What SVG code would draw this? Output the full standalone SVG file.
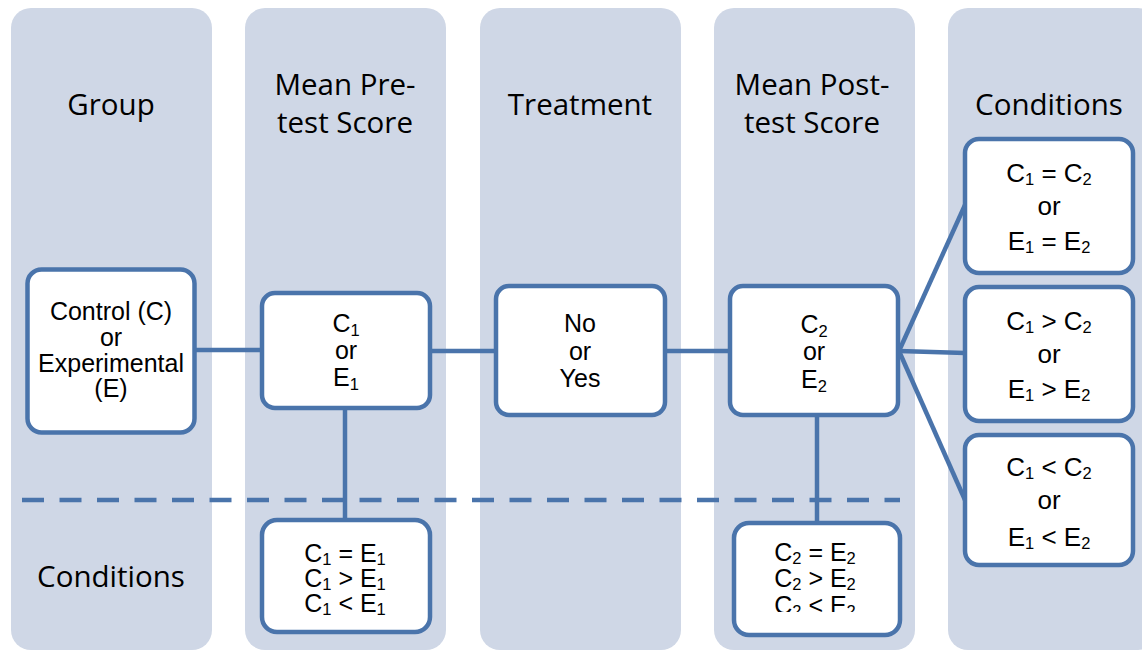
<svg xmlns="http://www.w3.org/2000/svg" width="1142" height="651" viewBox="0 0 1142 651">
<style>
.lane{fill:#CFD7E6;}
.hdr{font-family:"Open Sans","Liberation Sans",sans-serif;font-size:29.5px;fill:#000;text-anchor:middle;}
.box{fill:#fff;stroke:#4A74AB;stroke-width:4.5;}
.t{font-family:"Liberation Sans",Arial,sans-serif;font-size:25px;fill:#000;text-anchor:middle;}
.tr{font-family:"Liberation Sans",Arial,sans-serif;font-size:26px;fill:#000;text-anchor:middle;}
.sub{font-size:16.5px;}
.conn{stroke:#4A74AB;stroke-width:4.5;fill:none;}
.dash{stroke:#4A74AB;stroke-width:4.5;fill:none;stroke-dasharray:22 15.5;}
</style>
<defs>
<clipPath id="clipLow2"><rect x="734" y="523" width="166" height="89"/></clipPath>
</defs>
<rect width="1142" height="651" fill="#fff"/>
<g id="lanes">
<rect class="lane" x="11" y="8" width="201" height="642" rx="20"/>
<rect class="lane" x="245" y="8" width="201" height="642" rx="20"/>
<rect class="lane" x="480" y="8" width="201" height="642" rx="20"/>
<rect class="lane" x="714" y="8" width="201" height="642" rx="20"/>
<rect class="lane" x="948" y="8" width="210" height="642" rx="20"/>
</g>
<g id="headers">
<text class="hdr" x="111" y="115">Group</text>
<text class="hdr"><tspan x="345" y="95">Mean Pre-</tspan><tspan x="345" y="133">test Score</tspan></text>
<text class="hdr" x="580" y="115">Treatment</text>
<text class="hdr"><tspan x="812" y="95">Mean Post-</tspan><tspan x="812" y="133">test Score</tspan></text>
<text class="hdr" x="1049" y="115">Conditions</text>
<text class="hdr" x="111" y="587">Conditions</text>
</g>
<g id="connectors">
<line class="dash" x1="22" y1="500" x2="900" y2="500"/>
<line class="conn" x1="195" y1="350" x2="262" y2="350"/>
<line class="conn" x1="430" y1="351" x2="496" y2="351"/>
<line class="conn" x1="665" y1="351" x2="730" y2="351"/>
<line class="conn" x1="345" y1="408" x2="345" y2="520"/>
<line class="conn" x1="817" y1="415" x2="817" y2="523"/>
<line class="conn" x1="899" y1="351" x2="965" y2="205"/>
<line class="conn" x1="899" y1="351" x2="965" y2="353"/>
<line class="conn" x1="899" y1="351" x2="965" y2="500"/>
</g>
<g id="node-group">
<rect class="box" x="27.5" y="269.5" width="167" height="163" rx="14"/>
<text class="t"><tspan x="111" y="320">Control (C)</tspan><tspan x="111" y="346">or</tspan><tspan x="111" y="372">Experimental</tspan><tspan x="111" y="397">(E)</tspan></text>
</g>
<g id="node-pre">
<rect class="box" x="262" y="293" width="168" height="115" rx="13"/>
<text class="t"><tspan x="346" y="332">C</tspan><tspan class="sub" dy="4">1</tspan><tspan x="346" y="359">or</tspan><tspan x="346" y="386">E</tspan><tspan class="sub" dy="4">1</tspan></text>
</g>
<g id="node-treatment">
<rect class="box" x="496" y="286" width="169" height="129" rx="13"/>
<text class="t"><tspan x="580" y="332">No</tspan><tspan x="580" y="360">or</tspan><tspan x="580" y="387">Yes</tspan></text>
</g>
<g id="node-post">
<rect class="box" x="730" y="286" width="168" height="129" rx="13"/>
<text class="t"><tspan x="814" y="333">C</tspan><tspan class="sub" dy="4">2</tspan><tspan x="814" y="360">or</tspan><tspan x="814" y="388">E</tspan><tspan class="sub" dy="4">2</tspan></text>
</g>
<g id="node-pre-conditions">
<rect class="box" x="262" y="520" width="168" height="112" rx="15"/>
<text class="t"><tspan x="345" y="562">C</tspan><tspan class="sub" dy="3">1</tspan><tspan dy="-3"> = E</tspan><tspan class="sub" dy="3">1</tspan><tspan x="345" y="587">C</tspan><tspan class="sub" dy="3">1</tspan><tspan dy="-3"> &gt; E</tspan><tspan class="sub" dy="3">1</tspan><tspan x="345" y="612">C</tspan><tspan class="sub" dy="3">1</tspan><tspan dy="-3"> &lt; E</tspan><tspan class="sub" dy="3">1</tspan></text>
</g>
<g id="node-post-conditions">
<rect class="box" x="734" y="523" width="166" height="112" rx="15"/>
<text class="t" clip-path="url(#clipLow2)"><tspan x="815" y="561">C</tspan><tspan class="sub" dy="3">2</tspan><tspan dy="-3"> = E</tspan><tspan class="sub" dy="3">2</tspan><tspan x="815" y="587">C</tspan><tspan class="sub" dy="3">2</tspan><tspan dy="-3"> &gt; E</tspan><tspan class="sub" dy="3">2</tspan><tspan x="815" y="614">C</tspan><tspan class="sub" dy="3">2</tspan><tspan dy="-3"> &lt; E</tspan><tspan class="sub" dy="3">2</tspan></text>
</g>
<g id="node-cond-equal">
<rect class="box" x="965" y="139" width="168" height="134" rx="14"/>
<text class="tr"><tspan x="1049" y="182">C</tspan><tspan class="sub" dy="3">1</tspan><tspan dy="-3"> = C</tspan><tspan class="sub" dy="3">2</tspan><tspan x="1049" y="215">or</tspan><tspan x="1049" y="250">E</tspan><tspan class="sub" dy="3">1</tspan><tspan dy="-3"> = E</tspan><tspan class="sub" dy="3">2</tspan></text>
</g>
<g id="node-cond-greater">
<rect class="box" x="965" y="287" width="168" height="134" rx="14"/>
<text class="tr"><tspan x="1049" y="330">C</tspan><tspan class="sub" dy="3">1</tspan><tspan dy="-3"> &gt; C</tspan><tspan class="sub" dy="3">2</tspan><tspan x="1049" y="363">or</tspan><tspan x="1049" y="398">E</tspan><tspan class="sub" dy="3">1</tspan><tspan dy="-3"> &gt; E</tspan><tspan class="sub" dy="3">2</tspan></text>
</g>
<g id="node-cond-less">
<rect class="box" x="965" y="435" width="168" height="130" rx="14"/>
<text class="tr"><tspan x="1049" y="476">C</tspan><tspan class="sub" dy="3">1</tspan><tspan dy="-3"> &lt; C</tspan><tspan class="sub" dy="3">2</tspan><tspan x="1049" y="509">or</tspan><tspan x="1049" y="546">E</tspan><tspan class="sub" dy="3">1</tspan><tspan dy="-3"> &lt; E</tspan><tspan class="sub" dy="3">2</tspan></text>
</g>
</svg>
